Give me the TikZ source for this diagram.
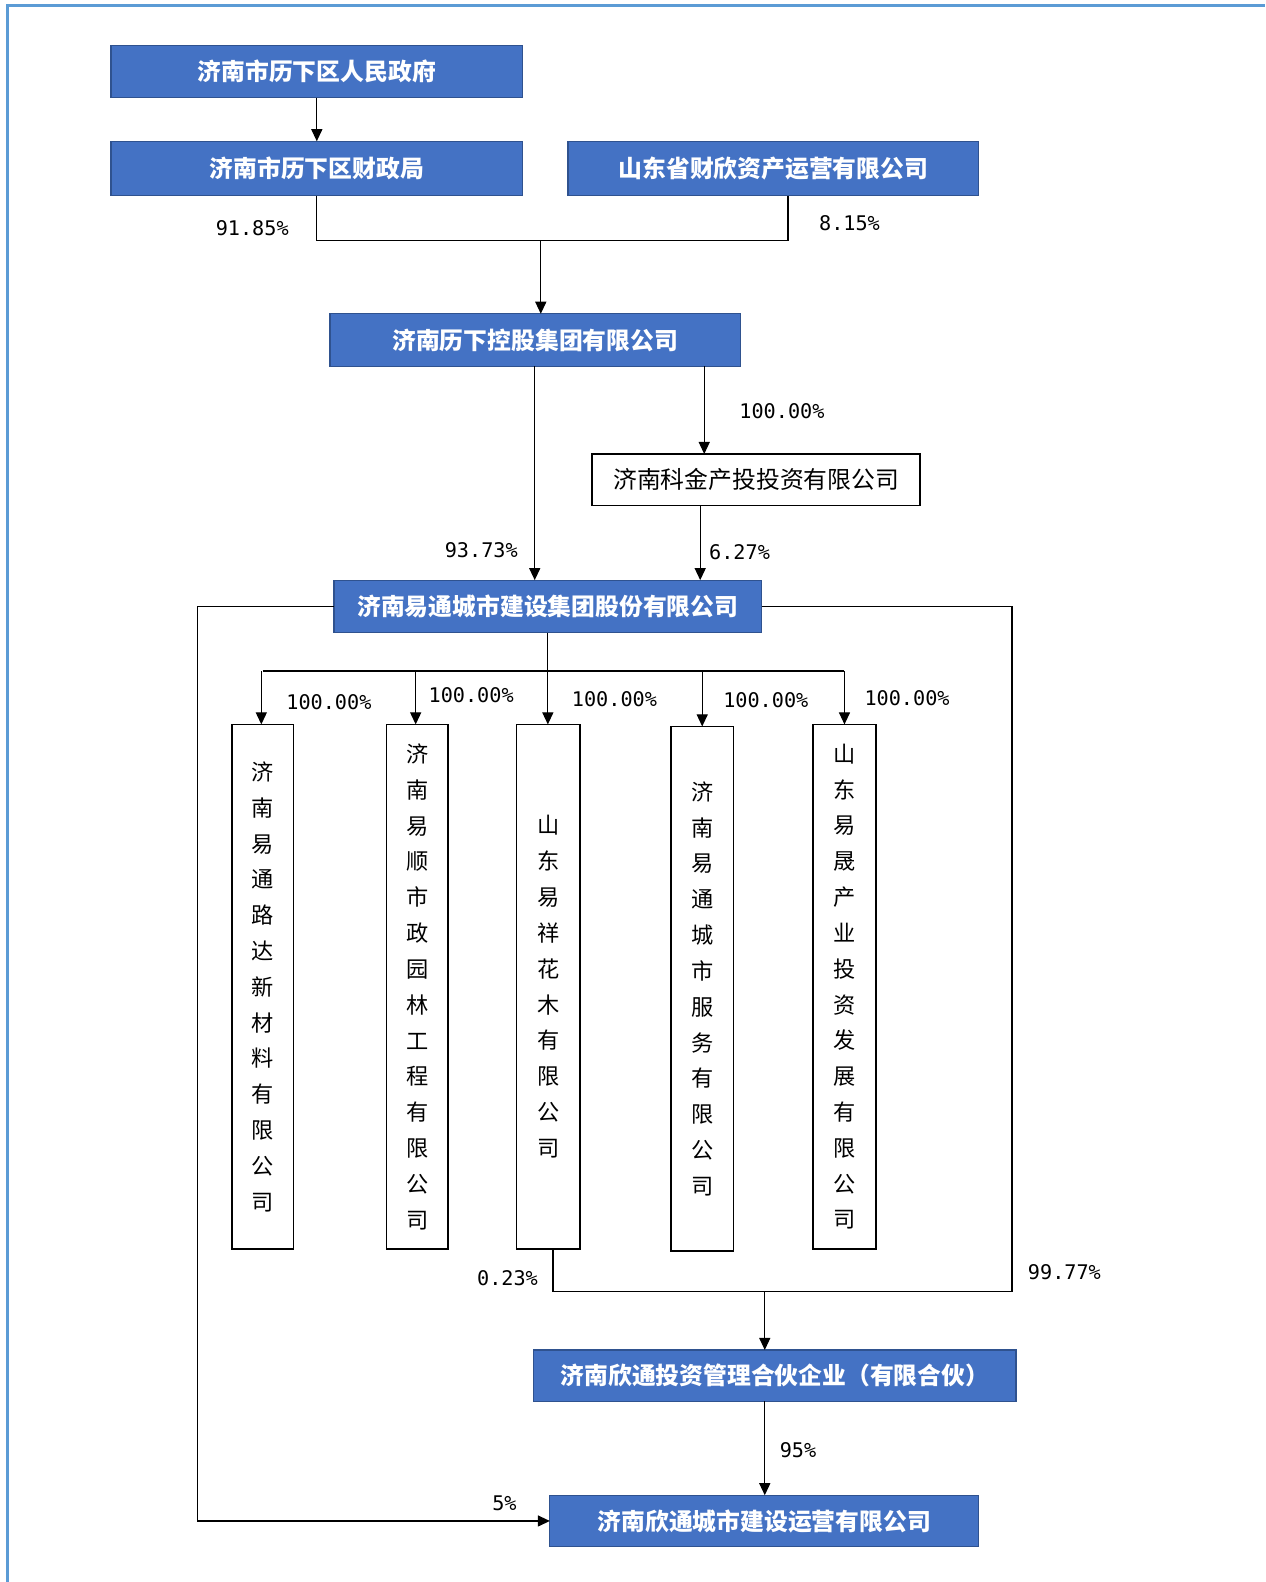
\documentclass[tikz,border=0pt]{standalone}
\usepackage{fontspec}
\newfontfamily\cjk{Noto Sans CJK SC}
\newfontfamily\pctfont{DejaVu Sans Mono}
\usetikzlibrary{arrows.meta}
\definecolor{boxblue}{HTML}{4472C4}
\definecolor{boxedge}{HTML}{2F528F}
\definecolor{frameblue}{HTML}{5B9BD5}
\tikzset{
  bluebox/.style={draw=boxedge, line width=0.6pt, fill=boxblue, text=white, inner sep=0pt, outer sep=0pt,
    font=\cjk\bfseries\fontsize{11.8}{14}\selectfont},
  whitebox/.style={draw=black, line width=0.8pt, fill=white, text=black, inner sep=0pt, outer sep=0pt,
    font=\cjk\fontsize{11.8}{14}\selectfont},
  vbox/.style={draw=black, line width=0.8pt, fill=white, text=black, inner sep=0pt, outer sep=0pt,
    minimum height=260pt, align=center, font=\cjk\fontsize{11}{17.75}\selectfont},
  conn/.style={draw=black, line width=0.6pt},
  arr/.style={conn, -{Triangle[width=5.5pt,length=6pt]}},
  pct/.style={inner sep=0pt, font=\pctfont\fontsize{10}{12}\selectfont}
}
\begin{document}
\begin{tikzpicture}[x=0.5pt,y=-0.5pt]
\useasboundingbox (0,0) rectangle (1254,1568);
% frame
\draw[frameblue, line width=1.5pt] (7,1568) -- (7,5) -- (1254,5);

% boxes
\node[bluebox, minimum width=204pt, minimum height=26pt] (A) at (314,71) {济南市历下区人民政府};
\node[bluebox, minimum width=204pt, minimum height=27pt] (B) at (314,167) {济南市历下区财政局};
\node[bluebox, minimum width=203.5pt, minimum height=27pt] (C) at (766.5,167) {山东省财欣资产运营有限公司};
\node[bluebox, minimum width=203.5pt, minimum height=26pt] (D) at (530.5,337) {济南历下控股集团有限公司};
\node[whitebox, minimum width=162.5pt, minimum height=25.5pt] (F) at (749.5,475.5) {济南科金产投投资有限公司};
\node[bluebox, minimum width=212pt, minimum height=26pt] (E) at (543,601) {济南易通城市建设集团股份有限公司};

\node[vbox, minimum width=30.5pt] (K1) at (260.5,978) {济\\南\\易\\通\\路\\达\\新\\材\\料\\有\\限\\公\\司};
\node[vbox, minimum width=30.5pt] (K2) at (413.5,978) {济\\南\\易\\顺\\市\\政\\园\\林\\工\\程\\有\\限\\公\\司};
\node[vbox, minimum width=31.5pt] (K3) at (543.5,978) {山\\东\\易\\祥\\花\\木\\有\\限\\公\\司};
\node[vbox, minimum width=31pt] (K4) at (696,980) {济\\南\\易\\通\\城\\市\\服\\务\\有\\限\\公\\司};
\node[vbox, minimum width=31pt] (K5) at (837,978) {山\\东\\易\\晟\\产\\业\\投\\资\\发\\展\\有\\限\\公\\司};

\node[bluebox, minimum width=239pt, minimum height=25.5pt] (H) at (768,1363.5) {济南欣通投资管理合伙企业（有限合伙）};
\node[bluebox, minimum width=212.5pt, minimum height=25.5pt] (G) at (757.5,1507.5) {济南欣通城市建设运营有限公司};

% junction coordinates
\coordinate (cR) at (781,238);
\coordinate (busT) at (536,238);
\coordinate (xDF) at (698,0);
\coordinate (xFE) at (694,0);
\coordinate (xDE) at (530,0);
\coordinate (cb) at (0,665);
\coordinate (lc) at (196,1507.5);
\coordinate (rc) at (1003,1280);
\coordinate (bj) at (548,1280);
\coordinate (hj) at (758,1280);

% connectors
\draw[arr] (A) -- (B);
\draw[conn] (B.south) |- (cR) -- (cR |- C.south);
\draw[arr] (busT) -- (busT |- D.north);
\draw[arr] (D.south -| xDE) -- (E.north -| xDE);
\draw[arr] (D.south -| xDF) -- (F.north -| xDF);
\draw[arr] (F.south -| xFE) -- (E.north -| xFE);

\draw[conn] (E.south) -- (E.south |- cb);
\draw[conn] (K1.north |- cb) -- (K5.north |- cb);
\foreach \k/\xx in {K1/259,K2/412,K3/543,K4/696,K5/837}{
  \draw[arr] (\xx,665) -- (\xx,0 |- \k.north);
}

\draw[arr] (E.west) -| (lc) -- (G.west);
\draw[conn] (E.east) -| (rc) -- (bj) -- (bj |- K3.south);
\draw[arr] (hj) -- (hj |- H.north);
\draw[arr] (hj |- H.south) -- (hj |- G.north);

% labels
\node[pct] (p1) at (250,226) {91.85\%};
\node[pct] (p2) at (842,221) {8.15\%};
\node[pct] (p3) at (775,408) {100.00\%};
\node[pct] (p4) at (477,545) {93.73\%};
\node[pct] (p5) at (733,547) {6.27\%};
\node[pct] (p6) at (326,696) {100.00\%};
\node[pct] (p7) at (467,689) {100.00\%};
\node[pct] (p8) at (609,693) {100.00\%};
\node[pct] (p9) at (759,694) {100.00\%};
\node[pct] (p10) at (899,692) {100.00\%};
\node[pct] (p11) at (503,1267) {0.23\%};
\node[pct] (p12) at (1055,1261) {99.77\%};
\node[pct] (p13) at (791,1437) {95\%};
\node[pct] (p14) at (500,1490) {5\%};
\end{tikzpicture}
\end{document}
